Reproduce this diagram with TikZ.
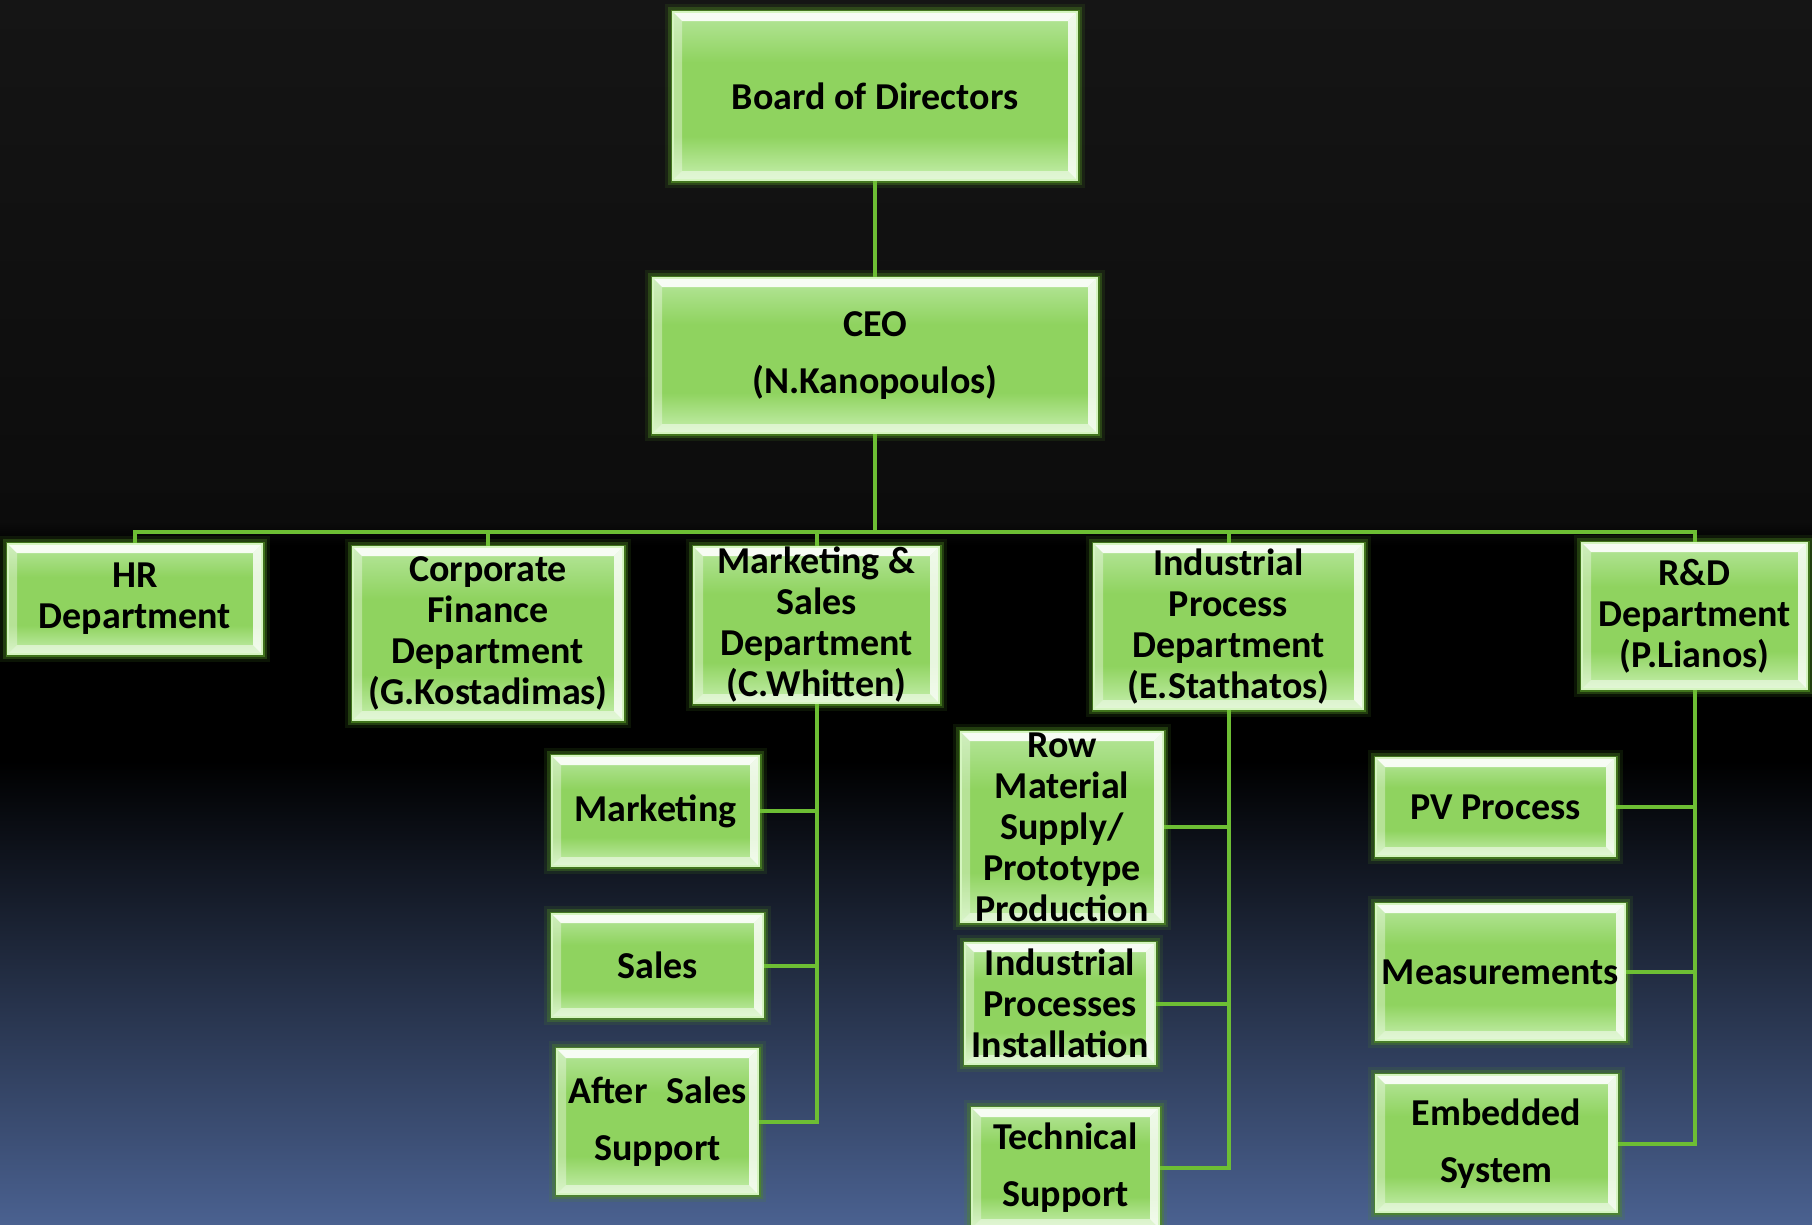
\documentclass[tikz,border=0pt]{standalone}
\usepackage{fontspec}
\setmainfont{Carlito}
\definecolor{linkc}{HTML}{6DBE34}
\definecolor{glowc}{HTML}{4E8A22}
\definecolor{boxedge}{HTML}{D5F5C0}
\definecolor{boxmid}{HTML}{8FD35F}
\definecolor{boxtop}{HTML}{B6E69B}
\definecolor{boxbot}{HTML}{C6EFAE}
\definecolor{bgtop}{HTML}{151515}
\definecolor{bgmid}{HTML}{0C0C0C}
\definecolor{bgblue}{HTML}{4A6190}

\pgfdeclareverticalshading{boxfill}{100bp}{color(0bp)=(boxbot); color(25bp)=(boxbot);
  color(38bp)=(boxmid); color(60bp)=(boxmid); color(75bp)=(boxtop); color(100bp)=(boxtop)}
\pgfdeclareverticalshading{backdrop}{100bp}{color(0bp)=(bgblue); color(25bp)=(bgblue);
  color(43.9bp)=(black); color(52.7bp)=(black); color(53.7bp)=(bgmid);
  color(75bp)=(bgtop); color(100bp)=(bgtop)}

\tikzset{
  orgbox/.style={draw=boxedge, line width=1.5, shading=boxfill, inner sep=0pt, align=center,
    font=\bfseries\fontsize{38}{41}\selectfont,
    preaction={draw=glowc, line width=16, opacity=0.15},
    preaction={draw=glowc, line width=10, opacity=0.35},
    preaction={draw=glowc, line width=5, opacity=0.7},
    path picture={
      \path (path picture bounding box.north west) coordinate (bNW)
            (path picture bounding box.south east) coordinate (bSE);
      % bevelled rim
      \fill[white, opacity=0.9] (bNW) -- (bNW -| bSE) -- ([shift={(-9pt,-9pt)}]bNW -| bSE)
        -- ([shift={(9pt,-9pt)}]bNW) -- cycle;
      \fill[white, opacity=0.5] (bSE) -- (bNW |- bSE) -- ([shift={(9pt,9pt)}]bNW |- bSE)
        -- ([shift={(-9pt,9pt)}]bSE) -- cycle;
      \fill[white, opacity=0.35] (bNW) -- ([shift={(9pt,-9pt)}]bNW)
        -- ([shift={(9pt,9pt)}]bNW |- bSE) -- (bNW |- bSE) -- cycle;
      \fill[white, opacity=0.8] (bNW -| bSE) -- (bSE) -- ([shift={(-9pt,9pt)}]bSE)
        -- ([shift={(-9pt,-9pt)}]bNW -| bSE) -- cycle;
    }},
  link/.style={draw=linkc, line width=4}
}

\begin{document}
\begin{tikzpicture}[x=1pt,y=-1pt]
  \useasboundingbox (0,0) rectangle (1812,1224);
  \shade[shading=backdrop] (0,0) rectangle (1812,1224);

  % top of the chart
  \node[orgbox, minimum width=404, minimum height=168] (board) at (875,96) {Board of Directors};
  \node[orgbox, minimum width=444, minimum height=155] (ceo) at (875,355.5) {CEO\\[16pt](N.Kanopoulos)};

  % departments
  \node[orgbox, minimum width=254, minimum height=110] (hr) at (135,599) {HR\\Department};
  \node[orgbox, minimum width=270, minimum height=173] (cfd) at (488,633.5) {Corporate\\Finance\\Department\\(G.Kostadimas)};
  \node[orgbox, minimum width=245, minimum height=156] (msd) at (816.5,625) {Marketing \&\\Sales\\Department\\(C.Whitten)};
  \node[orgbox, minimum width=269, minimum height=165] (ipd) at (1228.5,626.5) {Industrial\\Process\\Department\\(E.Stathatos)};
  \node[orgbox, minimum width=225, minimum height=146] (rnd) at (1694.5,616) {R\&D\\Department\\(P.Lianos)};

  % sections
  \node[orgbox, minimum width=207, minimum height=110] (mkt) at (655.5,811) {Marketing};
  \node[orgbox, minimum width=211, minimum height=103] (sal) at (657.5,965.5) {Sales};
  \node[orgbox, minimum width=201, minimum height=145] (asp) at (657.5,1121.5) {After\enspace Sales\\[16pt]Support};
  \node[orgbox, minimum width=202, minimum height=190] (rms) at (1062,827) {Row\\Material\\Supply/\\Prototype\\Production};
  \node[orgbox, minimum width=190, minimum height=121] (ipi) at (1060,1003.5) {Industrial\\Processes\\Installation};
  \node[orgbox, minimum width=187, minimum height=120] (tsp) at (1065.5,1168) {Technical\\[16pt]Support};
  \node[orgbox, minimum width=239, minimum height=98] (pvp) at (1495.5,807) {PV Process};
  \node[orgbox, minimum width=249, minimum height=136] (mea) at (1500.5,972) {Measurements};
  \node[orgbox, minimum width=241, minimum height=137] (emb) at (1496.5,1143.5) {Embedded\\[16pt]System};

  % connectors
  \coordinate (bus) at (875,532);
  \draw[link] (board.south) -- (ceo.north);
  \draw[link] (ceo.south) -- (bus);
  \draw[link] (hr.north) -- (hr.north |- bus) -- (rnd.north |- bus) -- (rnd.north);
  \foreach \d in {cfd,msd,ipd}
    \draw[link] (\d.north) -- (\d.north |- bus);
  \foreach \p/\last/\kids in {msd/asp/{mkt,sal}, ipd/tsp/{rms,ipi}, rnd/emb/{pvp,mea}}{
    \draw[link] (\p.south) -- (\p.south |- \last.east) -- (\last.east);
    \foreach \k in \kids
      \draw[link] (\k.east) -- (\k.east -| \p.south);}
\end{tikzpicture}
\end{document}
